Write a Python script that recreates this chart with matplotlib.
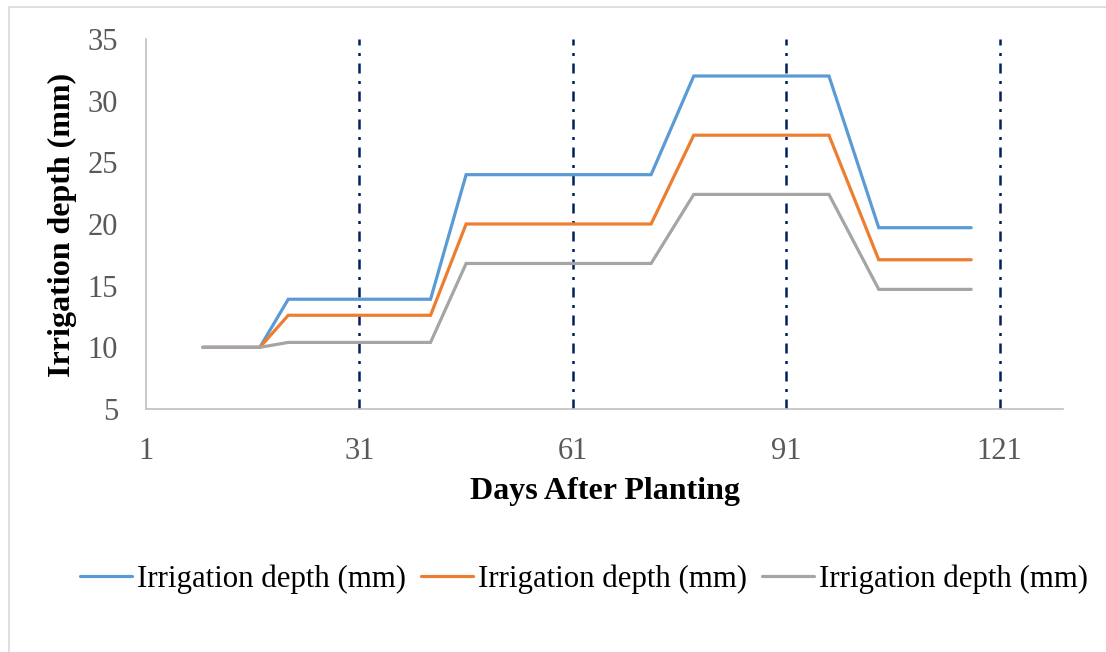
import matplotlib
matplotlib.use("Agg")
import matplotlib.pyplot as plt
from matplotlib.patches import Rectangle

days = [9, 17, 21, 41, 46, 72, 78, 97, 104, 117]
series_a = [10, 10, 13.9, 13.9, 24, 24, 32, 32, 19.7, 19.7]
series_b = [10, 10, 12.6, 12.6, 20, 20, 27.2, 27.2, 17.1, 17.1]
series_c = [10, 10, 10.4, 10.4, 16.8, 16.8, 22.4, 22.4, 14.7, 14.7]
labels = ["Irrigation depth (mm)"] * 3
colors = ["#5B9BD5", "#ED7D31", "#A5A5A5"]
stage_lines = [31, 61, 91, 121]
xticks = [1, 31, 61, 91, 121]
yticks = [5, 10, 15, 20, 25, 30, 35]

plt.rcParams["font.family"] = ["Liberation Serif", "DejaVu Serif"]

W, H = 1106, 652
fig = plt.figure(figsize=(W / 100, H / 100), dpi=100)
ax = fig.add_axes([146 / W, 1 - 409 / H, (1063 - 146) / W, (409 - 39) / H])

for ys, c, lab in zip([series_a, series_b, series_c], colors, labels):
    ax.plot(days, ys, color=c, lw=2.3, label=lab, solid_capstyle="round", solid_joinstyle="miter", zorder=3)

for xv in stage_lines:
    ax.axvline(xv, color="#002060", lw=1.8, linestyle=(0, (4, 3, 1.2, 3)), dash_capstyle="butt", zorder=2)

ax.set_xlim(1, 129.9)
ax.set_ylim(5, 35)
ax.set_xticks(xticks)
ax.set_yticks(yticks)
ax.tick_params(length=0, labelsize=22, labelcolor="#595959")
ax.tick_params(axis="x", pad=20)
ax.tick_params(axis="y", pad=20)
for s in ["top", "right"]:
    ax.spines[s].set_visible(False)
for s in ["left", "bottom"]:
    ax.spines[s].set_color("#BFBFBF")
    ax.spines[s].set_linewidth(1.2)

fig.text(605 / W, 1 - 492 / H, "Days After Planting", ha="center", va="center",
         fontsize=23, fontweight="bold")
fig.text(62 / W, 1 - 225 / H, "Irrigation depth (mm)", ha="center", va="center",
         rotation=90, fontsize=23, fontweight="bold")

fs = 22.2
px = fs * 100 / 72
fig.legend(loc="center left", bbox_to_anchor=(80 / W, 1 - 579 / H), ncol=3, frameon=False,
           fontsize=fs, handlelength=52 / px, handletextpad=5 / px, columnspacing=15 / px,
           borderpad=0, borderaxespad=0)

fig.patches.append(Rectangle((9 / W, -0.1), 1.2, 1 - 7 / H + 0.1, transform=fig.transFigure,
                             fill=False, edgecolor="#D9D9D9", lw=1.2))

fig.savefig("out.png", dpi=100)
